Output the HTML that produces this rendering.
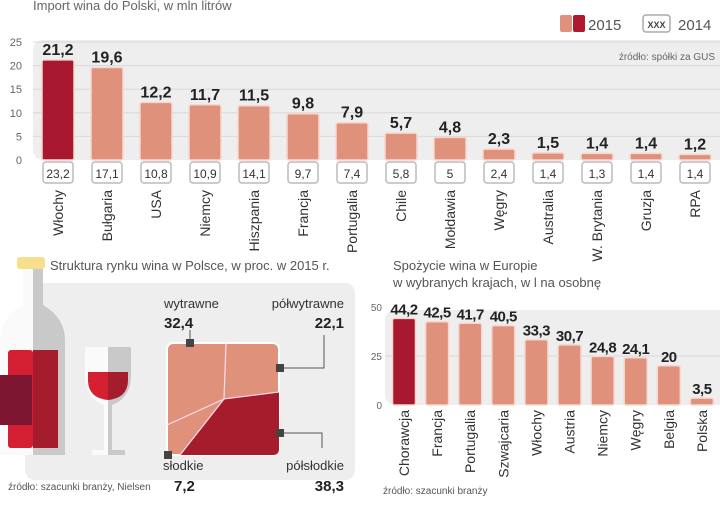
<!DOCTYPE html>
<html><head><meta charset="utf-8"><style>
body{margin:0;background:#fff;width:720px;height:509px;overflow:hidden}
svg{display:block;font-family:"Liberation Sans",sans-serif}
</style></head><body>
<svg id="s" width="720" height="509" viewBox="0 0 720 509">
<text x="33" y="10" font-size="13" fill="#666">Import wina do Polski, w mln litrów</text>
<g>
<rect x="560" y="15" width="12" height="17" fill="#e0917c" rx="2"/>
<rect x="573" y="15" width="12" height="17" fill="#b0182f" rx="2"/>
<text x="588" y="30" font-size="15" fill="#555">2015</text>
<rect x="643" y="15" width="27" height="17" fill="#fff" stroke="#aaa" stroke-width="1.5" rx="3"/>
<text x="656.5" y="28" font-size="9" font-weight="bold" text-anchor="middle" fill="#444">XXX</text>
<text x="678" y="30" font-size="15" fill="#555">2014</text>
</g>
<rect x="33" y="40" width="700" height="120" rx="10" fill="#eeeeee"/>
<text x="715" y="60" font-size="10" fill="#666" text-anchor="end">źródło: spółki za GUS</text>
<g id="gtop"></g>

<g>
<rect x="25" y="283" width="330" height="197" rx="10" fill="#eeeeee"/>
<rect x="17" y="257" width="28" height="12" rx="3" fill="#f6e08e"/>
<text x="50" y="270" font-size="13" fill="#555">Struktura rynku wina w Polsce, w proc. w 2015 r.</text>
<path d="M33 269 H43 V305 Q65 318 65 340 V455 H33 Z" fill="#c9c9c9"/>
<path d="M33 269 H23 V305 Q0 318 0 340 V455 H33 Z" fill="#fafafa"/>
<rect x="8" y="350" width="25" height="98" rx="3" fill="#d41f33"/>
<rect x="33" y="350" width="25" height="98" fill="#a51d2d"/>
<rect x="0" y="375" width="32" height="50" fill="#7d1630"/>
<path d="M85 347 H108 V455 H92 V450 H104 V405 Q85 398 85 375 Z" fill="#fafafa"/>
<path d="M131 347 H108 V455 H125 V450 H112 V405 Q131 398 131 375 Z" fill="#c9c9c9"/>
<path d="M88 372 H108 V400 Q88 398 88 380 Z" fill="#d52032"/>
<path d="M128 372 H108 V400 Q128 398 128 380 Z" fill="#a51d2d"/>
<rect x="167" y="343" width="112" height="112" rx="6" fill="#e0917c" stroke="#fff" stroke-width="2"/>
<path d="M224 399 L279 392 V449 Q279 455 273 455 H180 Z" fill="#a51d2d"/>
<path d="M226 343 L224 399 L279 392 M224 399 L167 425 M224 399 L180 455" stroke="#fde" stroke-width="1.2" fill="none"/>
<path d="M190 343 V330 M280 368 H324 V335 M280 433 H322 V448" stroke="#555" fill="none"/>
<rect x="186" y="339" width="8" height="8" fill="#444"/>
<rect x="276" y="364" width="8" height="8" fill="#444"/>
<rect x="276" y="429" width="8" height="8" fill="#444"/>
<rect x="164" y="451" width="8" height="8" fill="#444"/>
<text x="164" y="308" font-size="13" fill="#333">wytrawne</text>
<text x="164" y="328" font-size="15" font-weight="bold" fill="#222">32,4</text>
<text x="344" y="308" font-size="13" fill="#333" text-anchor="end">półwytrawne</text>
<text x="344" y="328" font-size="15" font-weight="bold" fill="#222" text-anchor="end">22,1</text>
<text x="163" y="470" font-size="13" fill="#333">słodkie</text>
<text x="174" y="491" font-size="15" font-weight="bold" fill="#222">7,2</text>
<text x="344" y="470" font-size="13" fill="#333" text-anchor="end">półsłodkie</text>
<text x="344" y="491" font-size="15" font-weight="bold" fill="#222" text-anchor="end">38,3</text>
<text x="8" y="490" font-size="10" fill="#555">źródło: szacunki branży, Nielsen</text>
</g>

<text x="393" y="270" font-size="13" fill="#555">Spożycie wina w Europie</text>
<text x="393" y="287" font-size="13" fill="#555">w wybranych krajach, w l na osobnę</text>
<rect x="385" y="310" width="345" height="95" rx="10" fill="#eeeeee"/>
<text x="383" y="494" font-size="10" fill="#555">źródło: szacunki branży</text>
<g id="gbot"></g>
</svg>
<script>
const impCats=["Włochy","Bułgaria","USA","Niemcy","Hiszpania","Francja","Portugalia","Chile","Mołdawia","Węgry","Australia","W. Brytania","Gruzja","RPA"];
const imp2015=[21.2,19.6,12.2,11.7,11.5,9.8,7.9,5.7,4.8,2.3,1.5,1.4,1.4,1.2];
const imp2014=[23.2,17.1,10.8,10.9,14.1,9.7,7.4,5.8,5,2.4,1.4,1.3,1.4,1.4];
const impTicks=[0,5,10,15,20,25];
const conCats=["Chorawcja","Francja","Portugalia","Szwajcaria","Włochy","Austria","Niemcy","Węgry","Belgia","Polska"];
const conVals=[44.2,42.5,41.7,40.5,33.3,30.7,24.8,24.1,20,3.5];
const conTicks=[0,25,50];

const NS="http://www.w3.org/2000/svg";
function mk(p,tag,at,txt){const e=document.createElementNS(NS,tag);for(const k in at)e.setAttribute(k,at[k]);if(txt!==undefined)e.textContent=txt;p.appendChild(e);return e;}
const fmt=v=>String(v).replace('.',',');

const gTop=document.getElementById('gtop');
const y1=v=>160-v*4.72, x1=i=>58+i*49;
impTicks.forEach(t=>{
 if(t>0){const l=mk(gTop,'line',{x1:33,x2:720,y1:y1(t),y2:y1(t),stroke:'#d8d8d8'});
 
 }
 const tx=mk(gTop,'text',{x:22,y:y1(t)+4,'font-size':11,fill:'#666','text-anchor':'end'},t);
 
 
});
impCats.forEach((c,i)=>{
 const cx=x1(i),h=imp2015[i]*4.72;
 const b=mk(gTop,'rect',{x:cx-16,y:160-h,width:32,height:h,rx:2,fill:i==0?'#a8182f':'#e0917c',stroke:'#f5d8d0','stroke-width':1.5});
 
 
 const v=mk(gTop,'text',{x:cx,y:160-h-5,'font-size':16,'font-weight':'bold',fill:'#222','text-anchor':'middle'},fmt(imp2015[i]));
 
 
 const bx=mk(gTop,'rect',{x:cx-15,y:162,width:30,height:21,rx:3,fill:'#fff',stroke:'#bbb','stroke-width':1.5});
 
 
 const v2=mk(gTop,'text',{x:cx,y:178,'font-size':12,fill:'#333','text-anchor':'middle'},fmt(imp2014[i]));
 
 
 const lb=mk(gTop,'text',{x:0,y:0,'font-size':14,fill:'#333','text-anchor':'end',transform:`translate(${cx+5},190) rotate(-90)`},c);
 
 
});

const gBot=document.getElementById('gbot');
const y2=v=>405-v*1.96, x2=i=>404+i*33.1;
conTicks.forEach(t=>{
 if(t==25){const l=mk(gBot,'line',{x1:385,x2:720,y1:y2(t),y2:y2(t),stroke:'#d8d8d8'});
 
 }
 const tx=mk(gBot,'text',{x:382,y:y2(t)+4,'font-size':10,fill:'#666','text-anchor':'end'},t);
 
 
});
conCats.forEach((c,i)=>{
 const cx=x2(i),h=conVals[i]*1.96;
 const b=mk(gBot,'rect',{x:cx-11.5,y:405-h,width:23,height:h,rx:2,fill:i==0?'#a8182f':'#e0917c',stroke:'#f5d8d0','stroke-width':1.5});
 
 
 const v=mk(gBot,'text',{x:cx,y:405-h-4,'font-size':15,'font-weight':'bold',fill:'#222','text-anchor':'middle','letter-spacing':'-0.5'},fmt(conVals[i]));
 
 
 const lb=mk(gBot,'text',{x:0,y:0,'font-size':14,fill:'#333','text-anchor':'end',transform:`translate(${cx+5},410) rotate(-90)`},c);
 
 
});
</script>
</body></html>
